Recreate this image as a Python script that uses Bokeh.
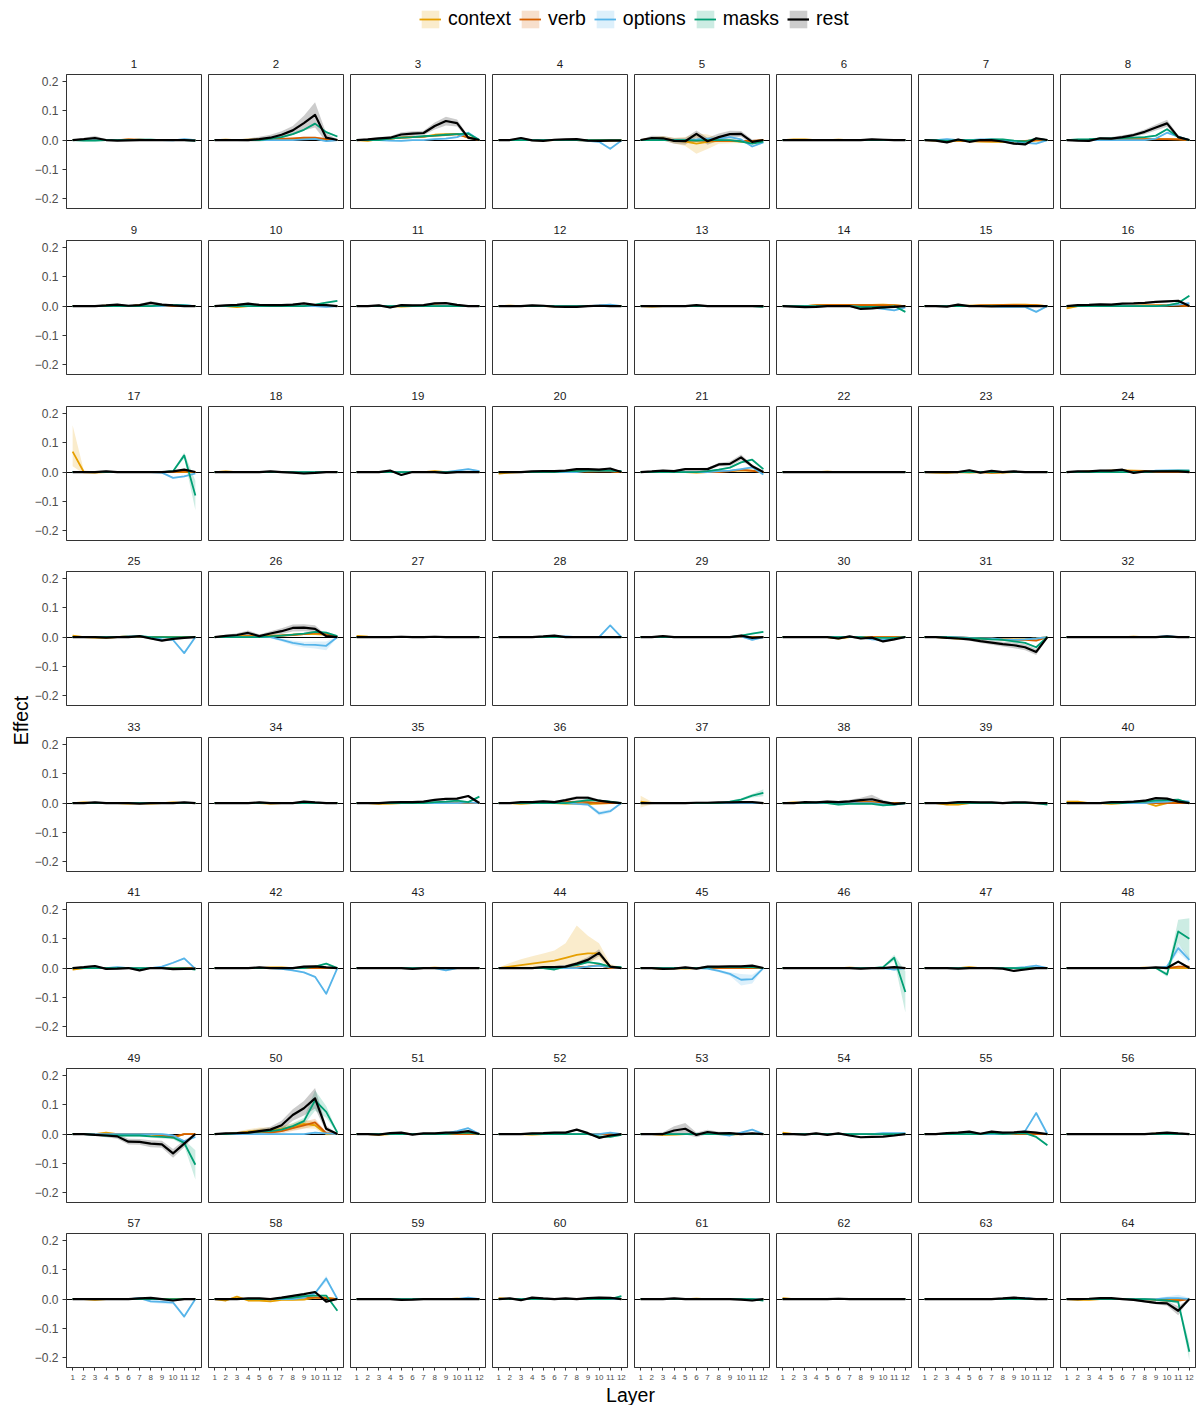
import math
from bokeh.plotting import figure
from bokeh.models import (Range1d, FixedTicker, CustomJSTickFormatter, Label,
                          Legend, LegendItem)
from bokeh.layouts import row, column
from bokeh.embed import file_html
from bokeh.resources import INLINE

# ---------------------------------------------------------------- data
LAYERS = [1, 2, 3, 4, 5, 6, 7, 8, 9, 10, 11, 12]
PANELS = list(range(1, 65))
SERIES = ["context", "verb", "options", "masks", "rest"]
Y_TICKS = [-0.2, -0.1, 0.0, 0.1, 0.2]

context = [
    [0, 0, 0.001, 0, 0, 0.001, 0, 0, 0, 0, 0, 0],  # 1
    [0, 0.001, 0, 0.001, 0.002, 0.003, 0.003, 0.004, 0.004, 0.003, 0.002, 0],  # 2
    [0, -0.003, 0.003, 0.005, 0.008, 0.01, 0.012, 0.018, 0.02, 0.02, 0.01, 0],  # 3
    [0, 0, 0.002, 0, -0.001, 0, 0, 0, -0.002, -0.002, -0.002, 0],  # 4
    [0, 0.005, 0.006, -0.002, -0.005, -0.012, -0.006, -0.003, -0.003, -0.005, -0.005, 0],  # 5
    [0, 0.002, 0.002, 0, 0, 0.001, 0, 0, 0, 0, 0, 0],  # 6
    [0, -0.002, -0.006, -0.002, -0.004, -0.005, -0.006, -0.006, -0.008, -0.006, -0.002, 0],  # 7
    [0, 0, 0, 0.001, 0.002, 0.002, 0.002, 0.002, 0.003, 0.003, 0.002, 0],  # 8
    [0, 0, 0, 0.001, 0, 0, 0.002, 0, 0, 0.001, 0, 0],  # 9
    [0, 0, -0.004, 0, 0.001, 0.001, 0, 0.001, 0, 0, 0, 0],  # 10
    [0, 0, 0, 0, -0.002, 0, 0, 0.002, 0, 0, 0, 0],  # 11
    [0, 0.001, 0, 0, 0, -0.001, 0, 0, 0, 0, 0, 0],  # 12
    [0, -0.002, 0, 0, 0, 0, 0, 0, 0, 0, 0, 0],  # 13
    [0, 0, 0, 0.003, 0.004, 0.004, 0.004, 0.004, 0.004, 0.005, 0.003, 0],  # 14
    [0, 0, 0, 0, 0.001, 0.002, 0.003, 0.004, 0.005, 0.005, 0.003, 0],  # 15
    [-0.008, 0, 0, 0.001, 0, 0, 0.001, 0.002, 0.002, 0.002, 0.002, 0],  # 16
    [0.07, 0, -0.002, 0, 0, 0, 0, 0, 0, 0, 0, 0],  # 17
    [0, 0.002, 0, 0, 0, 0, 0, 0, 0, 0, 0, 0],  # 18
    [0, 0, 0, 0, 0, 0, 0, 0.003, 0, 0, 0, 0],  # 19
    [-0.005, -0.002, 0, 0, 0, 0.002, 0.003, 0.002, 0.002, 0.003, 0.003, 0],  # 20
    [0, 0, 0.002, 0, 0, -0.002, 0, 0.003, 0.003, 0.006, 0.005, 0],  # 21
    [0, 0, 0, 0, 0.001, 0, 0, 0, 0, 0, 0, 0],  # 22
    [0, -0.002, -0.003, 0, -0.002, 0, -0.003, -0.002, 0, 0, 0, 0],  # 23
    [0, 0, 0.002, 0.003, 0.005, 0.006, 0.005, 0.004, 0.002, 0.002, 0, 0],  # 24
    [0.005, 0, -0.002, -0.003, 0, 0.004, 0, 0, 0, 0, 0, 0],  # 25
    [0, 0.002, 0.003, 0.004, 0.004, 0.005, 0.006, 0.008, 0.01, 0.01, 0.008, 0],  # 26
    [0.004, 0.001, 0, 0, 0, 0, 0, 0, 0, 0, 0, 0],  # 27
    [0, 0, 0, 0, 0, 0.002, 0, 0, 0, 0, 0, 0],  # 28
    [0, 0, 0.001, 0, 0, 0, 0, 0, 0, 0, 0, 0],  # 29
    [0, 0, 0, 0, 0, -0.005, 0, 0, 0, 0, 0, 0],  # 30
    [0, 0, -0.003, -0.005, -0.005, -0.006, -0.006, -0.008, -0.008, -0.008, -0.005, 0],  # 31
    [0, 0, 0, 0, 0, 0, 0.001, 0, 0, 0, 0, 0],  # 32
    [0, 0.002, 0, 0, 0, -0.002, 0, -0.002, 0, 0.002, 0, 0],  # 33
    [0, 0, 0, 0, 0, -0.002, 0, 0, 0, 0, 0, 0],  # 34
    [0, 0, -0.003, -0.002, 0, 0, 0, 0, 0, 0.002, 0, 0],  # 35
    [0, 0, -0.003, 0, 0, 0, -0.002, -0.002, -0.004, -0.002, 0, 0],  # 36
    [0.005, 0, 0, 0, 0, 0, 0, 0, 0, 0, 0, 0],  # 37
    [0, 0.002, 0, 0, 0, 0, 0.002, 0.002, 0.003, 0, 0, 0],  # 38
    [0, 0, -0.005, -0.005, 0, 0, 0, 0, 0, 0, 0, 0],  # 39
    [0.005, 0.005, 0, 0, -0.003, 0, 0, 0.002, -0.01, 0, 0.002, 0],  # 40
    [-0.005, 0, 0, 0, 0, 0, 0, 0, 0, 0, 0, 0],  # 41
    [0, 0, 0, 0, 0, 0.002, 0.002, 0, 0.002, 0.002, 0, 0],  # 42
    [0, 0, 0, 0, 0, 0, 0, 0.001, 0, 0, 0, 0],  # 43
    [0, 0.005, 0.01, 0.015, 0.02, 0.025, 0.035, 0.045, 0.05, 0.05, 0.005, 0],  # 44
    [0, 0, -0.003, 0, -0.002, 0, 0, 0, 0, 0, 0, 0],  # 45
    [0, 0, 0, 0, 0, 0, 0.001, 0, 0, 0, 0, 0],  # 46
    [0, 0, 0, 0, 0.003, 0, 0, 0, 0, 0, 0, 0],  # 47
    [0, 0, 0, 0, 0, 0, 0, 0.001, 0, 0, 0, 0],  # 48
    [0, 0, 0, 0.005, 0, 0, 0, -0.002, -0.005, -0.012, 0, 0],  # 49
    [0, 0, 0.003, 0.008, 0.012, 0.012, 0.018, 0.025, 0.035, 0.03, 0, 0],  # 50
    [0, 0, -0.003, 0, 0.002, 0, 0, 0, 0, 0, 0, 0],  # 51
    [0, 0, 0, -0.002, 0, 0, 0, 0, 0, 0, 0, 0],  # 52
    [0, 0, -0.003, -0.002, 0, 0, 0, 0, -0.002, 0, 0, 0],  # 53
    [0.005, 0, 0, 0, 0, 0, 0, 0, 0, 0, 0, 0],  # 54
    [0, 0, 0, 0, 0, 0, 0.002, 0, 0, 0, 0, 0],  # 55
    [0, 0, 0, 0, 0, 0, 0, 0, 0.001, 0, 0, 0],  # 56
    [0, 0, -0.003, 0, 0, 0, 0, 0, 0, 0, 0, 0],  # 57
    [0, -0.005, 0.008, -0.005, -0.005, -0.008, -0.003, -0.003, -0.002, 0.005, 0.005, 0],  # 58
    [0, 0, 0, 0, 0, 0, 0, 0, 0, 0.001, 0, 0],  # 59
    [0.003, 0, 0, 0, 0, 0, 0, 0, 0, 0, 0, 0],  # 60
    [0, 0, 0, 0, 0, 0.001, 0, 0, 0, 0, 0, 0],  # 61
    [0.003, 0, 0, 0, 0, 0, 0, 0, 0, 0, 0, 0],  # 62
    [0, 0, 0, 0, 0, 0, 0, 0, 0, 0, 0, 0],  # 63
    [0, -0.003, -0.003, 0, 0, 0, 0, 0, 0, 0, 0, 0],  # 64
]

verb = [
    [0, 0, 0, 0, 0, 0.002, 0.001, 0, 0, 0, 0, 0],  # 1
    [0, 0, 0, 0, 0, 0.002, 0.004, 0.006, 0.008, 0.008, 0.003, 0],  # 2
    [0, 0, 0.002, 0.005, 0.008, 0.01, 0.012, 0.015, 0.017, 0.02, 0.008, 0],  # 3
    [0, 0, 0, 0, 0, 0, 0, 0, -0.002, 0, 0, 0],  # 4
    [0, 0.003, 0.004, 0, -0.002, -0.002, -0.002, -0.003, -0.003, -0.003, -0.003, 0],  # 5
    [0, 0, 0, 0, 0, 0, 0, 0, 0, 0, 0, 0],  # 6
    [0, 0, -0.003, -0.002, -0.002, -0.003, -0.003, -0.003, -0.003, -0.003, 0, 0],  # 7
    [0, 0, 0, 0, 0, 0.001, 0.002, 0.003, 0.003, 0.003, 0.002, 0],  # 8
    [0, 0, 0, 0, 0, 0, 0.002, 0, 0, 0, 0, 0],  # 9
    [0, 0, 0, 0, 0, 0, 0.002, 0, 0, 0, 0, 0],  # 10
    [0, 0, 0, 0, 0, 0, 0, 0.001, 0, 0, 0, 0],  # 11
    [0, 0, 0, 0, 0, 0, 0, 0, 0, 0, 0, 0],  # 12
    [0, 0, 0, 0, 0, 0, 0, 0, 0, 0, 0, 0],  # 13
    [0, 0, 0, 0.002, 0.003, 0.003, 0.003, 0.003, 0.003, 0.002, 0.002, 0],  # 14
    [0, 0, 0, 0, 0, 0.002, 0.002, 0.003, 0.003, 0.002, 0.002, 0],  # 15
    [0, 0, 0, 0, 0, 0, 0, 0.001, 0.002, 0.002, 0.002, 0],  # 16
    [0, 0, 0, 0, 0, 0, 0, 0, 0, 0, 0.002, 0],  # 17
    [0, 0, 0, 0, 0, 0, 0, 0, 0, 0, 0, 0],  # 18
    [0, 0, 0, 0, 0, 0, 0, 0, 0, 0, 0, 0],  # 19
    [0, 0, 0, 0, 0, 0, 0, 0.002, 0.002, 0.002, 0.002, 0],  # 20
    [0, 0, 0, 0, 0, 0, 0, 0, 0.003, 0.008, 0.004, 0],  # 21
    [0, 0, 0, 0, 0, 0, 0, 0, 0, 0, 0, 0],  # 22
    [0, 0, 0, 0, 0, 0, -0.002, 0, 0, 0, 0, 0],  # 23
    [0, 0, 0, 0, 0.003, 0.004, 0.003, 0.002, 0, 0, 0, 0],  # 24
    [0, 0, 0, 0, 0, 0, 0, 0, 0, -0.003, 0, 0],  # 25
    [0, 0, 0, 0.002, 0.002, 0.003, 0.005, 0.007, 0.01, 0.015, 0.01, 0],  # 26
    [0, 0, 0, 0, 0, 0, 0, 0, 0, 0, 0, 0],  # 27
    [0, 0, 0, 0, 0, 0, 0, 0, 0, 0, 0, 0],  # 28
    [0, 0, 0, 0, 0, 0, 0, 0, 0, 0, 0, 0],  # 29
    [0, 0, 0, 0, 0, 0, 0, 0, 0, 0, 0, 0],  # 30
    [0, 0, 0, 0, -0.003, -0.005, -0.005, -0.008, -0.01, -0.01, -0.012, 0],  # 31
    [0, 0, 0, 0, 0, 0, 0, 0, 0, 0, 0, 0],  # 32
    [0, 0, 0, 0, 0, 0, 0, 0, 0, 0, 0, 0],  # 33
    [0, 0, 0, 0, 0, 0, 0, 0, 0, 0, 0, 0],  # 34
    [0, 0, 0, 0, 0, 0, 0, 0, 0, 0, 0, 0],  # 35
    [0, 0, 0, 0, 0, 0, 0.003, 0.005, 0.003, 0, 0, 0],  # 36
    [0, 0, 0, 0, 0, 0, 0, 0, 0, 0, 0, 0],  # 37
    [0, 0, 0, 0, 0, 0.002, 0.003, 0.003, 0.003, 0, 0, 0],  # 38
    [0, 0, 0, 0, 0, 0, 0, 0, 0, 0, 0, 0],  # 39
    [0, 0, 0, 0, 0, 0, 0, 0, 0, 0, 0, 0],  # 40
    [0, 0, 0, 0, 0, 0, 0, 0, 0, 0, 0, 0],  # 41
    [0, 0, 0, 0, 0, 0, 0, 0, 0, 0, 0, 0],  # 42
    [0, 0, 0, 0, 0, 0, 0, 0, 0, 0, 0, 0],  # 43
    [0, 0, 0, 0, 0, 0, 0, 0.002, 0.005, 0.01, 0, 0],  # 44
    [0, 0, 0, 0, 0, 0, 0, 0, 0, 0, 0, 0],  # 45
    [0, 0, 0, 0, 0, 0, 0, 0, 0, 0, 0, 0],  # 46
    [0, 0, 0, 0, 0, 0, 0, 0, 0, 0, 0, 0],  # 47
    [0, 0, 0, 0, 0, 0, 0, 0, 0, 0, 0.005, 0.005],  # 48
    [0, 0, 0, 0, 0, 0, 0, 0, -0.003, -0.01, 0, 0],  # 49
    [0, 0, 0.002, 0.003, 0.008, 0.005, 0.01, 0.02, 0.03, 0.04, 0.003, 0],  # 50
    [0, 0, 0, 0, 0, 0, 0, 0, 0, 0, 0, 0],  # 51
    [0, 0, 0, 0, 0, 0, 0, 0, 0, 0, 0, 0],  # 52
    [0, 0, 0, 0, 0, 0, 0, 0, 0, 0, 0, 0],  # 53
    [0, 0, 0, 0, 0, 0, 0, 0, 0, 0, 0, 0],  # 54
    [0, 0, 0, 0, 0, 0, 0, 0, 0, 0, 0, 0],  # 55
    [0, 0, 0, 0, 0, 0, 0, 0, 0, 0, 0, 0],  # 56
    [0, 0, 0, 0, 0, 0, 0, 0, 0, 0, 0, 0],  # 57
    [0, 0, 0, 0, 0, 0, 0, 0.003, 0.005, 0.005, 0.003, 0],  # 58
    [0, 0, 0, 0, 0, 0, 0, 0, 0, 0, 0, 0],  # 59
    [0, 0, 0, 0, 0, 0, 0, 0, 0, 0, 0, 0],  # 60
    [0, 0, 0, 0, 0, 0, 0, 0, 0, 0, 0, 0],  # 61
    [0, 0, 0, 0, 0, 0, 0, 0, 0, 0, 0, 0],  # 62
    [0, 0, 0, 0, 0, 0, 0, 0, 0, 0, 0, 0],  # 63
    [0, 0, 0, 0, 0, 0, 0, 0, -0.003, -0.005, -0.005, 0],  # 64
]

options = [
    [0, 0, 0, 0, 0, 0, 0, 0, 0, -0.001, 0.003, 0],  # 1
    [0, 0, 0, 0, 0, 0, 0, 0, 0.002, 0.004, -0.004, 0],  # 2
    [0, 0, 0, -0.002, -0.003, 0, 0, 0.003, 0.005, 0.01, 0.025, 0],  # 3
    [0, 0, 0.002, 0, 0, 0, 0, 0, -0.003, -0.006, -0.03, -0.002],  # 4
    [0, 0, 0.002, 0, 0, 0.002, 0.005, 0.005, 0.01, 0.002, -0.022, -0.008],  # 5
    [0, 0, 0, 0, 0, 0, 0, 0, 0, 0, 0, 0],  # 6
    [0, 0, 0.003, 0, 0, 0.002, 0.002, 0, -0.005, -0.01, -0.012, 0],  # 7
    [0, 0, 0, 0, 0, 0, 0, 0, 0.005, 0.025, 0.012, 0],  # 8
    [0, 0, 0, 0, 0, 0, 0, 0, 0, 0.003, 0.003, 0],  # 9
    [0, 0, 0, 0, 0, 0, 0, 0, 0, 0, -0.003, 0],  # 10
    [0, 0, 0, 0, 0, 0, 0, 0, 0, 0, 0, 0],  # 11
    [0, 0, 0, 0, 0, 0, 0, 0, 0, 0.002, 0.005, 0],  # 12
    [0, 0, 0, 0, 0, 0, 0, 0, 0, 0, 0, 0],  # 13
    [0, 0, 0, 0, 0, 0, 0, -0.003, -0.005, -0.01, -0.015, -0.005],  # 14
    [0, 0, 0, 0, 0, 0, 0, -0.003, -0.003, -0.003, -0.02, 0],  # 15
    [0, 0, 0, 0, 0, 0, 0, 0, 0, 0.002, 0.005, 0.01],  # 16
    [0, 0, 0, 0, 0, 0, 0, 0, -0.002, -0.02, -0.015, -0.005],  # 17
    [0, 0, 0, 0, 0, 0, 0, 0, 0, 0, 0, 0],  # 18
    [0, 0, 0, 0, 0, 0, 0, 0, 0, 0.005, 0.01, 0.003],  # 19
    [0, 0, 0, 0, 0, 0, 0, 0, 0.005, 0.005, 0.005, 0.002],  # 20
    [0, 0, 0, 0, 0, 0, 0, 0.003, 0.005, 0.01, 0.016, -0.008],  # 21
    [0, 0, 0, 0, 0, 0, 0, 0, 0, 0, 0, 0],  # 22
    [0, 0, 0, 0, 0, 0, 0, 0, 0, 0, 0, 0],  # 23
    [0, 0, 0, 0, 0, 0, 0, 0, 0.005, 0.006, 0.006, 0.005],  # 24
    [0, 0, 0, 0, 0, 0.003, 0.002, 0, -0.008, -0.01, -0.055, 0],  # 25
    [0, 0, 0, 0, 0, 0, -0.01, -0.02, -0.026, -0.027, -0.03, 0],  # 26
    [0, 0, 0, 0, 0, 0, 0, 0, 0, 0, 0, 0],  # 27
    [0, 0, 0, 0, 0, 0, 0.002, 0, 0, 0, 0.04, 0],  # 28
    [0, 0, 0, 0, 0, 0, 0, 0, 0, 0.002, -0.01, 0],  # 29
    [0, 0, 0, 0, 0, 0, 0, 0, -0.008, -0.01, -0.005, 0],  # 30
    [0, 0, 0, 0, -0.003, -0.005, -0.005, -0.008, -0.01, -0.008, -0.005, 0],  # 31
    [0, 0, 0, 0, 0, 0, 0, 0, 0, 0.004, 0, 0],  # 32
    [0, 0, 0, 0, 0, 0, 0, 0, 0, 0, 0, 0],  # 33
    [0, 0, 0, 0, 0, 0, 0, 0, 0, 0, 0, 0],  # 34
    [0, 0, 0, 0, 0, 0, 0, 0, 0, 0, 0.002, 0],  # 35
    [0, 0, 0, 0, 0, 0, 0, -0.003, -0.005, -0.035, -0.028, 0],  # 36
    [0, 0, 0, 0, 0, 0, 0, 0, 0, 0, 0, 0],  # 37
    [0, 0, 0, 0, 0, 0, 0, 0, 0, -0.005, -0.005, 0],  # 38
    [0, 0, 0, 0, 0, 0, 0, 0, 0, 0, 0, 0],  # 39
    [0, 0, 0, 0, 0, 0, 0, 0, 0.003, 0.005, 0.008, 0.005],  # 40
    [0, 0, 0, 0, 0.003, 0, 0, 0, 0.005, 0.018, 0.033, -0.003],  # 41
    [0, 0, 0, 0, 0, 0, -0.003, -0.008, -0.015, -0.03, -0.088, 0],  # 42
    [0, 0, 0, 0, 0, 0, 0, 0, -0.008, 0, 0, 0],  # 43
    [0, 0, 0, 0, 0, 0, 0, 0, 0.005, 0.008, 0.003, 0],  # 44
    [0, 0, 0, 0, 0, 0, -0.002, -0.01, -0.02, -0.04, -0.038, 0],  # 45
    [0, 0, 0, 0, 0, 0, 0, 0, 0, 0, -0.005, 0],  # 46
    [0, 0, 0, 0, 0, 0, 0, 0, 0, 0.003, 0.008, 0],  # 47
    [0, 0, 0, 0, 0, 0, 0, 0, 0, 0.005, 0.068, 0.028],  # 48
    [0, 0, 0, 0, 0, 0, 0, 0, 0, -0.005, -0.025, -0.01],  # 49
    [0, 0, 0, 0, 0, 0, 0, 0, 0, 0.005, 0.002, 0],  # 50
    [0, 0, 0, 0, 0, 0, 0, 0, 0.002, 0.01, 0.02, 0],  # 51
    [0, 0, 0, 0, 0, 0, 0, 0, 0, 0, 0.005, 0],  # 52
    [0, 0, 0, 0, 0, 0, 0, 0, -0.005, 0.005, 0.015, 0],  # 53
    [0, 0, 0, 0, 0, 0, 0, 0, 0, 0.003, 0.003, 0.003],  # 54
    [0, 0, 0, 0, 0, 0, 0, 0, 0.002, 0.01, 0.072, 0],  # 55
    [0, 0, 0, 0, 0, 0, 0, 0, 0, 0, 0, 0],  # 56
    [0, 0, 0, 0, 0, 0, 0.003, -0.008, -0.01, -0.012, -0.06, 0],  # 57
    [0, 0, 0, 0, 0, 0, 0, 0, 0.005, 0.02, 0.07, 0],  # 58
    [0, 0, 0, 0, 0, 0, 0, 0, 0, 0, 0.005, 0],  # 59
    [0, 0, 0, 0, 0, 0, 0, 0, 0, 0, 0, 0],  # 60
    [0, 0, 0, 0, 0, 0, 0, 0, 0, 0, 0, 0],  # 61
    [0, 0, 0, 0, 0, 0, 0, 0, 0, 0, 0, 0],  # 62
    [0, 0, 0, 0, 0, 0, 0, 0, 0, 0.003, 0, 0],  # 63
    [0, 0, 0, 0, 0, 0, 0, 0, 0, 0.003, 0.003, 0],  # 64
]

masks = [
    [0, -0.002, -0.002, 0, 0, 0, 0.001, 0.001, 0, 0, 0, -0.002],  # 1
    [0, 0, 0, 0, 0, 0.005, 0.01, 0.02, 0.035, 0.056, 0.027, 0.012],  # 2
    [0, 0, 0, 0.005, 0.008, 0.01, 0.013, 0.015, 0.018, 0.02, 0.022, 0],  # 3
    [0, 0, 0, 0, 0, 0, 0, 0, 0, 0, 0, 0],  # 4
    [0, 0, 0, 0, 0, -0.002, 0, 0, 0, -0.005, -0.012, -0.005],  # 5
    [0, 0, 0, 0, 0, 0, 0, 0, 0, 0, 0, 0],  # 6
    [0, 0, -0.003, 0, 0, 0, 0.002, 0.002, -0.002, -0.005, 0.005, 0],  # 7
    [0, 0.002, 0.003, 0.005, 0.006, 0.007, 0.008, 0.01, 0.015, 0.037, 0.01, 0],  # 8
    [0, 0, 0, 0, 0, 0, 0, 0, 0.003, 0.003, 0.002, 0],  # 9
    [0, 0, 0, 0, 0, 0, 0, 0, 0, 0.005, 0.012, 0.018],  # 10
    [0, 0, 0, 0, 0, 0, 0, 0, 0, 0, 0, 0],  # 11
    [0, 0, 0, 0, 0, 0, 0, 0, 0, 0, 0, 0],  # 12
    [0, 0, 0, 0, 0, 0, 0, 0, 0, 0, 0, -0.003],  # 13
    [0, 0, 0, 0, 0, 0, 0, -0.003, -0.003, -0.005, 0, -0.02],  # 14
    [0, 0, 0, 0, 0, 0, 0, 0, 0, 0, 0, 0],  # 15
    [0, 0, 0, 0, 0, 0, 0, 0, 0, 0.002, 0.01, 0.035],  # 16
    [0, 0, 0, 0, 0, 0, 0, 0, 0, 0.003, 0.057, -0.08],  # 17
    [0, 0, 0, 0, 0, 0, 0, 0, 0, 0, 0, 0],  # 18
    [0, 0, 0, 0, 0, 0, 0, 0, 0, 0, 0, 0],  # 19
    [0, 0, 0, 0, 0, 0, 0.003, 0.003, 0.005, 0.005, 0.005, 0.003],  # 20
    [0, 0, 0, 0, 0, 0, 0.003, 0.008, 0.015, 0.033, 0.042, 0.01],  # 21
    [0, 0, 0, 0, 0, 0, 0, 0, 0, 0, 0, 0],  # 22
    [0, 0, 0, 0, 0, 0, 0, 0, 0, 0, 0, 0],  # 23
    [0, 0, 0, 0, 0, 0, 0, 0, 0.002, 0.004, 0.005, 0.005],  # 24
    [0, 0, 0, 0, 0, 0, 0.003, 0, 0, 0, 0, 0],  # 25
    [0, 0, 0, 0, 0, 0.002, 0.005, 0.008, 0.012, 0.018, 0.015, 0.003],  # 26
    [0, 0, 0, 0, 0, 0, 0, 0, 0, 0, 0, 0],  # 27
    [0, 0, 0, 0, 0, 0, 0, 0, 0, 0, 0, 0],  # 28
    [0, 0, 0, 0, 0, 0, 0, 0, 0, 0.005, 0.012, 0.018],  # 29
    [0, 0, 0, 0, 0, 0, 0, 0, -0.003, -0.003, -0.003, 0],  # 30
    [0, 0, 0, -0.003, -0.005, -0.005, -0.008, -0.01, -0.015, -0.02, -0.035, 0],  # 31
    [0, 0, 0, 0, 0, 0, 0, 0, 0, 0, 0, 0],  # 32
    [0, 0, 0, 0, 0, 0, 0, 0, 0, 0, 0, 0],  # 33
    [0, 0, 0, 0, 0, 0, 0, 0, 0, 0, 0, 0],  # 34
    [0, 0, 0, 0, 0, 0, 0, 0.003, 0.005, 0.008, 0.003, 0.022],  # 35
    [0, 0, 0, 0, 0, 0, 0, 0.005, 0.01, 0.008, 0.005, 0],  # 36
    [0, 0, 0, 0, 0, 0, 0, 0, 0.005, 0.012, 0.025, 0.035],  # 37
    [0, 0, 0, 0.002, 0, -0.005, -0.003, -0.003, -0.003, -0.008, -0.005, 0],  # 38
    [0, 0, 0, 0, 0, 0, 0, 0, 0, 0, 0, -0.005],  # 39
    [0, 0, 0, 0, 0, 0, 0.003, 0.005, 0.008, 0.01, 0.012, 0],  # 40
    [0, 0, 0, 0, 0, 0, 0, 0, 0, 0, 0, -0.005],  # 41
    [0, 0, 0, 0, 0, 0, 0, 0, 0, 0.005, 0.015, 0],  # 42
    [0, 0, 0, 0, 0, 0, 0, 0, 0, 0, 0, 0],  # 43
    [0, 0, 0, 0, 0, -0.005, 0.005, 0.01, 0.02, 0.015, 0.005, 0.003],  # 44
    [0, 0, 0, 0, 0, 0, 0.002, 0.003, 0.003, 0.003, 0.003, 0],  # 45
    [0, 0, 0, 0, 0, 0, 0, 0, 0, 0.003, 0.035, -0.082],  # 46
    [0, 0, 0, 0, 0, 0, 0, 0, 0, 0, 0, 0],  # 47
    [0, 0, 0, 0, 0, 0, 0, 0, 0, -0.022, 0.125, 0.1],  # 48
    [0, 0, -0.003, -0.005, -0.005, -0.005, -0.005, -0.008, -0.01, -0.012, -0.03, -0.105],  # 49
    [0, 0, 0.003, 0.005, 0.008, 0.01, 0.015, 0.027, 0.044, 0.115, 0.076, 0.005],  # 50
    [0, 0, 0, 0, 0, 0, 0, 0, 0, 0.003, 0.005, 0],  # 51
    [0, 0, 0, 0, 0, 0, 0, 0, 0, -0.008, -0.01, -0.003],  # 52
    [0, 0, 0, 0, 0, 0, 0, 0, 0, 0, 0, 0],  # 53
    [0, 0, 0, 0, 0, 0, 0, 0, 0, 0, 0, 0],  # 54
    [0, 0, 0, 0, 0, 0, 0.003, 0, 0.002, 0.003, -0.01, -0.038],  # 55
    [0, 0, 0, 0, 0, 0, 0, 0, 0, 0, 0, 0],  # 56
    [0, 0, 0, 0, 0, 0, 0, 0, 0, 0, 0, 0],  # 57
    [0, 0, 0, 0, 0, 0, 0.002, 0.005, 0.01, 0.012, 0.012, -0.04],  # 58
    [0, 0, 0, 0, 0, 0, 0, 0, 0, 0, 0, 0],  # 59
    [0, 0, 0, 0, 0, 0, 0, 0, 0, 0, 0, 0.01],  # 60
    [0, 0, 0, 0, 0, 0, 0, 0, 0, 0, 0, -0.005],  # 61
    [0, 0, 0, 0, 0, 0, 0, 0, 0, 0, 0, 0],  # 62
    [0, 0, 0, 0, 0, 0, 0, 0, 0, 0, 0, 0],  # 63
    [0, 0, 0, 0, 0, 0, 0, 0, -0.003, -0.005, -0.01, -0.18],  # 64
]

rest = [
    [0, 0.003, 0.007, 0, -0.002, -0.001, 0, 0, 0, 0, 0, -0.002],  # 1
    [0, 0, 0, 0, 0.003, 0.008, 0.018, 0.033, 0.058, 0.086, 0.008, 0],  # 2
    [0, 0.002, 0.006, 0.008, 0.019, 0.022, 0.024, 0.048, 0.065, 0.058, 0.008, 0],  # 3
    [0, 0, 0.007, -0.001, -0.003, 0.001, 0.002, 0.003, -0.002, -0.003, -0.002, -0.002],  # 4
    [0, 0.007, 0.006, -0.003, -0.004, 0.021, -0.004, 0.01, 0.02, 0.021, -0.006, 0],  # 5
    [0, 0, 0, 0, 0, 0, 0, 0, 0.002, 0.001, 0, 0],  # 6
    [0, -0.002, -0.008, 0.002, -0.006, 0, 0, -0.005, -0.012, -0.015, 0.006, 0],  # 7
    [0, -0.002, -0.003, 0.006, 0.005, 0.01, 0.017, 0.028, 0.043, 0.057, 0.01, 0],  # 8
    [0, 0, 0, 0.002, 0.005, 0.001, 0.003, 0.011, 0.005, 0.002, 0, 0],  # 9
    [0, 0.002, 0.004, 0.008, 0.004, 0.003, 0.003, 0.005, 0.009, 0.004, 0.003, 0],  # 10
    [0, 0, 0.002, -0.005, 0.003, 0.002, 0.003, 0.009, 0.01, 0.004, 0, 0],  # 11
    [0, 0, 0, 0.002, 0.001, -0.002, -0.003, -0.003, 0, 0.001, 0, 0],  # 12
    [0, 0, 0, 0, 0, 0.003, 0, 0, 0, 0, 0, 0],  # 13
    [0, -0.002, -0.004, -0.003, 0, 0, 0, -0.01, -0.008, -0.005, -0.003, 0],  # 14
    [0, 0, -0.002, 0.005, 0, 0, -0.001, 0, 0, 0, 0, 0],  # 15
    [0, 0.003, 0.004, 0.006, 0.005, 0.008, 0.009, 0.011, 0.014, 0.016, 0.018, 0],  # 16
    [0, 0, 0, 0.002, 0, 0, 0, 0, 0, 0.002, 0.008, 0],  # 17
    [0, 0, 0, 0, 0, 0.002, 0, -0.002, -0.005, -0.003, 0, 0],  # 18
    [0, 0, 0, 0.005, -0.01, 0, 0, 0, -0.003, 0, 0, 0],  # 19
    [0, 0, 0, 0.002, 0.003, 0.003, 0.005, 0.01, 0.01, 0.008, 0.012, 0],  # 20
    [0, 0.002, 0.005, 0.003, 0.01, 0.01, 0.01, 0.026, 0.028, 0.05, 0.02, 0],  # 21
    [0, 0, 0, 0, 0, 0, 0, 0, 0, 0, 0, 0],  # 22
    [0, 0, 0, 0, 0.006, -0.002, 0.004, 0, 0.002, 0, 0, 0],  # 23
    [0, 0.002, 0.002, 0.005, 0.005, 0.008, -0.003, 0.002, 0.002, 0.002, 0.002, 0],  # 24
    [0, 0, 0, -0.002, 0, 0, 0.003, -0.005, -0.012, -0.006, -0.003, 0],  # 25
    [0, 0.004, 0.007, 0.014, 0.003, 0.012, 0.02, 0.031, 0.032, 0.028, 0.003, 0],  # 26
    [0, 0, 0, 0, 0.001, 0, 0, 0.001, 0, 0, 0, 0],  # 27
    [0, 0, 0, 0, 0.002, 0.005, 0, 0, 0, 0, 0, 0],  # 28
    [0, 0, 0.003, 0, 0, 0, 0, 0, 0, 0.005, -0.003, 0],  # 29
    [0, 0, 0, 0, 0, -0.005, 0.002, -0.005, -0.002, -0.015, -0.008, 0],  # 30
    [0, 0, -0.003, -0.005, -0.008, -0.014, -0.019, -0.024, -0.028, -0.035, -0.051, 0],  # 31
    [0, 0, 0, 0, 0, 0, 0, 0, 0, 0.002, 0, 0],  # 32
    [0, 0, 0.002, 0, 0, 0, -0.002, 0, 0, 0, 0.002, 0],  # 33
    [0, 0, 0, 0, 0.002, 0, 0, 0, 0.005, 0.002, 0, 0],  # 34
    [0, 0, 0, 0.002, 0.003, 0.003, 0.005, 0.011, 0.014, 0.015, 0.024, 0],  # 35
    [0, 0, 0.003, 0.003, 0.006, 0.003, 0.01, 0.018, 0.018, 0.008, 0.003, 0],  # 36
    [0, 0, 0, 0, 0, 0.001, 0.001, 0.002, 0.002, 0.003, 0.003, 0],  # 37
    [0, 0, 0.003, 0.002, 0.005, 0.003, 0.006, 0.01, 0.013, 0.004, -0.003, 0],  # 38
    [0, 0, 0, 0.003, 0.003, 0.002, 0.002, 0, 0.002, 0.002, 0, 0],  # 39
    [0, 0, 0, 0, 0.003, 0.003, 0.005, 0.008, 0.017, 0.015, 0.005, 0],  # 40
    [0, 0.003, 0.007, -0.003, -0.002, 0, -0.008, 0, 0, -0.004, -0.003, -0.002],  # 41
    [0, 0, 0, 0, 0.002, 0, 0, 0, 0.005, 0.006, 0.002, 0],  # 42
    [0, 0, 0, 0, 0, -0.003, 0, 0, 0, 0, 0, 0],  # 43
    [0, 0, 0, 0, 0.003, 0.003, 0.005, 0.015, 0.028, 0.052, 0.005, 0],  # 44
    [0, 0, -0.003, -0.002, 0.002, -0.002, 0.005, 0.005, 0.006, 0.006, 0.008, 0],  # 45
    [0, 0, 0, 0, 0, 0, 0, -0.002, 0, 0, 0.003, 0],  # 46
    [0, 0, 0, -0.002, 0, 0, 0, -0.002, -0.01, -0.005, 0, 0],  # 47
    [0, 0, 0, 0, 0, 0, 0, 0, 0.002, 0, 0.022, 0],  # 48
    [0, 0, -0.003, -0.005, -0.008, -0.026, -0.027, -0.033, -0.035, -0.066, -0.033, 0],  # 49
    [0, 0.002, 0.003, 0.005, 0.01, 0.015, 0.03, 0.065, 0.088, 0.122, 0.018, 0],  # 50
    [0, 0, -0.002, 0.003, 0.005, -0.002, 0.002, 0.002, 0.005, 0.005, 0.01, 0],  # 51
    [0, 0, 0, 0.002, 0.003, 0.005, 0.005, 0.015, 0.003, -0.013, -0.005, 0],  # 52
    [0, 0, 0, 0.012, 0.018, -0.003, 0.007, 0.002, 0.003, 0, 0.002, 0],  # 53
    [0, 0, -0.002, 0.002, -0.003, 0.002, -0.005, -0.011, -0.01, -0.009, -0.005, 0],  # 54
    [0, 0, 0.003, 0.005, 0.008, 0.001, 0.008, 0.005, 0.006, 0.008, 0.005, 0],  # 55
    [0, 0, 0, 0, 0, 0, 0, 0, 0.002, 0.005, 0.002, 0],  # 56
    [0, 0, 0, 0, 0, 0, 0.002, 0.004, 0, -0.005, 0, 0],  # 57
    [0, 0, 0, 0.002, 0.002, 0, 0.005, 0.011, 0.017, 0.024, -0.009, 0],  # 58
    [0, 0, 0, 0, -0.003, -0.002, 0, 0, 0, 0, 0, 0],  # 59
    [0, 0.002, -0.004, 0.005, 0.002, 0, 0.002, 0, 0.003, 0.005, 0.004, 0],  # 60
    [0, 0, 0, 0.002, 0, 0, 0, 0, 0, -0.002, -0.005, 0],  # 61
    [0, 0, 0, 0, 0, 0.001, 0, 0, 0, 0, 0, 0],  # 62
    [0, 0, 0, 0, 0, 0, 0, 0.002, 0.005, 0.002, 0, 0],  # 63
    [0, 0, 0.001, 0.003, 0.003, 0, -0.003, -0.008, -0.013, -0.015, -0.04, 0],  # 64
]

# half-widths of the uncertainty ribbons, where they are visible
# (a single list is symmetric; a tuple gives (below, above))
BASE_HW = 0.003
context_hw = {
    5: [0.002, 0.005, 0.008, 0.01, 0.015, 0.035, 0.025, 0.01, 0.008, 0.005, 0.004, 0.002],
    17: ([0.05, 0.006, 0.003, 0.002, 0.002, 0.002, 0.002, 0.002, 0.002, 0.002, 0.002, 0.002],
         [0.09, 0.006, 0.003, 0.002, 0.002, 0.002, 0.002, 0.002, 0.002, 0.002, 0.002, 0.002]),
    37: [0.02, 0.004, 0.002, 0.002, 0.002, 0.002, 0.002, 0.002, 0.002, 0.002, 0.002, 0.002],
    44: ([0.002, 0.008, 0.01, 0.012, 0.015, 0.018, 0.025, 0.04, 0.03, 0.02, 0.008, 0.002],
         [0.002, 0.012, 0.02, 0.025, 0.03, 0.035, 0.05, 0.1, 0.06, 0.035, 0.01, 0.002]),
    50: [0.002, 0.004, 0.006, 0.008, 0.01, 0.01, 0.01, 0.012, 0.015, 0.012, 0.005, 0.002],
}
verb_hw = {
    50: [0.002, 0.003, 0.004, 0.005, 0.006, 0.006, 0.008, 0.01, 0.012, 0.012, 0.004, 0.002],
}
options_hw = {
    26: [0.002, 0.002, 0.002, 0.002, 0.003, 0.004, 0.005, 0.008, 0.01, 0.012, 0.015, 0.002],
    36: [0.002, 0.002, 0.002, 0.002, 0.002, 0.002, 0.003, 0.004, 0.005, 0.008, 0.006, 0.002],
    45: [0.002, 0.002, 0.002, 0.002, 0.002, 0.002, 0.003, 0.004, 0.006, 0.02, 0.015, 0.002],
    48: [0.002, 0.002, 0.002, 0.002, 0.002, 0.002, 0.002, 0.002, 0.003, 0.004, 0.015, 0.01],
    57: [0.002, 0.002, 0.002, 0.002, 0.002, 0.002, 0.003, 0.005, 0.006, 0.006, 0.005, 0.002],
    58: [0.002, 0.002, 0.002, 0.002, 0.002, 0.002, 0.002, 0.003, 0.004, 0.005, 0.01, 0.002],
    64: [0.002, 0.002, 0.002, 0.002, 0.002, 0.002, 0.002, 0.002, 0.003, 0.006, 0.012, 0.004],
}
masks_hw = {
    17: [0.002, 0.002, 0.002, 0.002, 0.002, 0.002, 0.002, 0.002, 0.002, 0.003, 0.01, 0.05],
    37: [0.002, 0.002, 0.002, 0.002, 0.002, 0.002, 0.002, 0.002, 0.003, 0.004, 0.006, 0.012],
    46: [0.002, 0.002, 0.002, 0.002, 0.002, 0.002, 0.002, 0.002, 0.002, 0.003, 0.01, 0.07],
    48: [0.002, 0.002, 0.002, 0.002, 0.002, 0.002, 0.002, 0.002, 0.003, 0.008, 0.04, 0.07],
    49: [0.002, 0.002, 0.002, 0.003, 0.003, 0.003, 0.004, 0.004, 0.005, 0.006, 0.01, 0.05],
    50: [0.002, 0.002, 0.003, 0.004, 0.005, 0.006, 0.008, 0.01, 0.012, 0.035, 0.02, 0.003],
    64: [0.002, 0.002, 0.002, 0.002, 0.002, 0.002, 0.002, 0.002, 0.003, 0.004, 0.006, 0.03],
}
rest_hw = {
    1: [0.002, 0.004, 0.008, 0.003, 0.002, 0.002, 0.002, 0.002, 0.002, 0.002, 0.002, 0.002],
    2: [0.002, 0.002, 0.003, 0.005, 0.008, 0.01, 0.012, 0.015, 0.025, 0.043, 0.015, 0.003],
    3: [0.002, 0.003, 0.004, 0.005, 0.008, 0.008, 0.008, 0.012, 0.015, 0.012, 0.006, 0.002],
    5: [0.002, 0.008, 0.008, 0.01, 0.012, 0.012, 0.012, 0.012, 0.012, 0.01, 0.008, 0.003],
    8: [0.002, 0.003, 0.003, 0.004, 0.005, 0.006, 0.006, 0.008, 0.01, 0.012, 0.006, 0.002],
    9: [0.002, 0.002, 0.002, 0.003, 0.003, 0.003, 0.004, 0.006, 0.004, 0.003, 0.002, 0.002],
    21: [0.002, 0.002, 0.003, 0.003, 0.004, 0.004, 0.005, 0.006, 0.008, 0.01, 0.006, 0.002],
    26: [0.002, 0.004, 0.006, 0.008, 0.006, 0.008, 0.01, 0.012, 0.012, 0.012, 0.004, 0.002],
    31: [0.002, 0.002, 0.003, 0.004, 0.005, 0.006, 0.007, 0.008, 0.01, 0.01, 0.01, 0.002],
    36: [0.002, 0.002, 0.003, 0.003, 0.004, 0.004, 0.005, 0.006, 0.006, 0.004, 0.003, 0.002],
    38: [0.002, 0.002, 0.003, 0.003, 0.004, 0.004, 0.005, 0.008, 0.015, 0.006, 0.004, 0.002],
    44: [0.002, 0.002, 0.002, 0.003, 0.003, 0.004, 0.005, 0.006, 0.01, 0.012, 0.004, 0.002],
    49: [0.002, 0.003, 0.004, 0.006, 0.008, 0.01, 0.01, 0.012, 0.012, 0.015, 0.012, 0.003],
    50: [0.002, 0.003, 0.004, 0.006, 0.008, 0.01, 0.015, 0.02, 0.025, 0.035, 0.01, 0.002],
    53: [0.002, 0.003, 0.006, 0.015, 0.02, 0.008, 0.008, 0.006, 0.004, 0.003, 0.003, 0.002],
    64: [0.002, 0.002, 0.002, 0.002, 0.002, 0.002, 0.003, 0.004, 0.005, 0.008, 0.015, 0.002],
}

VALUES = {"context": context, "verb": verb, "options": options, "masks": masks, "rest": rest}
HALF_WIDTHS = {"context": context_hw, "verb": verb_hw, "options": options_hw,
               "masks": masks_hw, "rest": rest_hw}

# ---------------------------------------------------------------- style
COLORS = {"context": "#E69F00", "verb": "#D55E00", "options": "#56B4E9",
          "masks": "#009E73", "rest": "#000000"}
LINE_W = {"context": 1.8, "verb": 1.8, "options": 1.8, "masks": 1.8, "rest": 2.2}
RIBBON_ALPHA = 0.2
FONT = "Liberation Sans"
FRAME_W, FRAME_H = 135, 134
GAP_X = 6
LEFT_COL0 = 36
TOP_BORDERS = [31, 31, 31, 30, 31, 30, 31, 30]
BOTTOM_AXIS = 17
EFFECT_W = 30
LEG_H = 43
LAYER_H = 21
GRID_W = (LEFT_COL0 + FRAME_W + 1) + 7 * (GAP_X + FRAME_W + 1)
TOTAL_W = EFFECT_W + GRID_W
GRID_H = sum(TOP_BORDERS) + 7 * (FRAME_H + 1) + FRAME_H + BOTTOM_AXIS
X_RANGE = (0.45, 12.55)
Y_RANGE = (-0.234, 0.224)
BORDER = "#333333"


def make_panel(idx):
    n = PANELS[idx]
    r, c = divmod(idx, 8)
    p = figure(title=str(n), frame_width=FRAME_W, frame_height=FRAME_H,
               x_range=Range1d(*X_RANGE), y_range=Range1d(*Y_RANGE),
               x_axis_location="below" if r == 7 else None,
               y_axis_location="left" if c == 0 else None,
               min_border_left=LEFT_COL0 if c == 0 else GAP_X,
               min_border_right=1, min_border_top=TOP_BORDERS[r],
               min_border_bottom=BOTTOM_AXIS if r == 7 else 1,
               output_backend="svg", toolbar_location=None, tools="")
    p.title.align = "center"
    p.title.text_font = FONT
    p.title.text_font_size = "11.5px"
    p.title.text_font_style = "normal"
    p.title.text_color = "#1a1a1a"
    p.title.standoff = 14
    p.outline_line_color = BORDER
    p.outline_line_width = 1
    p.grid.visible = False
    p.background_fill_color = "white"

    if c == 0:
        ax = p.yaxis[0]
        ax.ticker = FixedTicker(ticks=Y_TICKS)
        ax.formatter = CustomJSTickFormatter(
            code="return (tick < -1e-9 ? '\u2212' : '') + Math.abs(tick).toFixed(1);")
        ax.major_tick_out = 4
        ax.major_tick_in = 0
        ax.minor_tick_line_color = None
        ax.major_tick_line_color = BORDER
        ax.axis_line_color = BORDER
        ax.major_label_text_font = FONT
        ax.major_label_text_font_size = "12px"
        ax.major_label_text_color = "#4d4d4d"
        ax.major_label_standoff = 4
    if r == 7:
        ax = p.xaxis[0]
        ax.ticker = FixedTicker(ticks=LAYERS)
        ax.major_tick_out = 3
        ax.major_tick_in = 0
        ax.minor_tick_line_color = None
        ax.major_tick_line_color = BORDER
        ax.axis_line_color = BORDER
        ax.major_label_text_font = FONT
        ax.major_label_text_font_size = "8px"
        ax.major_label_text_color = "#4d4d4d"
        ax.major_label_standoff = 4

    # ribbons
    for s in SERIES:
        vals = VALUES[s][idx]
        hw = HALF_WIDTHS[s].get(n, [BASE_HW] * len(LAYERS))
        lo_hw, hi_hw = hw if isinstance(hw, tuple) else (hw, hw)
        lo = [v - h for v, h in zip(vals, lo_hw)]
        hi = [v + h for v, h in zip(vals, hi_hw)]
        p.varea(x=LAYERS, y1=lo, y2=hi, fill_color=COLORS[s], fill_alpha=RIBBON_ALPHA)
    # zero reference line
    p.hspan(y=[0], line_color="black", line_width=1)
    # lines
    for s in SERIES:
        p.line(x=LAYERS, y=VALUES[s][idx], line_color=COLORS[s],
               line_width=LINE_W[s], line_join="round")
    return p


rows = []
for r in range(8):
    rows.append(row([make_panel(r * 8 + c) for c in range(8)], spacing=0))
grid = column(rows, spacing=0)

# y-axis title
effect_fig = figure(frame_width=EFFECT_W, frame_height=GRID_H,
                    x_range=Range1d(0, EFFECT_W), y_range=Range1d(0, GRID_H),
                    x_axis_location=None, y_axis_location=None, min_border=0,
                    outline_line_color=None, output_backend="svg",
                    toolbar_location=None, tools="")
effect_fig.grid.visible = False
effect_fig.add_layout(Label(x=20, y=GRID_H - (720 - LEG_H), text="Effect",
                            angle=math.pi / 2, text_align="center",
                            text_baseline="middle", text_font=FONT,
                            text_font_size="19.5px", text_color="black"))

# legend on top
leg_fig = figure(frame_width=TOTAL_W, frame_height=LEG_H,
                 x_range=Range1d(0, TOTAL_W), y_range=Range1d(0, LEG_H),
                 x_axis_location=None, y_axis_location=None, min_border=0,
                 outline_line_color=None, output_backend="svg",
                 toolbar_location=None, tools="")
leg_fig.grid.visible = False
items = []
for s in SERIES:
    ra = leg_fig.varea(x=[-10, -5], y1=[-10, -10], y2=[-5, -5],
                       fill_color=COLORS[s], fill_alpha=RIBBON_ALPHA)
    rl = leg_fig.line(x=[-10, -5], y=[-10, -10], line_color=COLORS[s], line_width=LINE_W[s])
    items.append(LegendItem(label=s, renderers=[ra, rl]))
legend = Legend(items=items, orientation="horizontal", location=(419, 13),
                glyph_width=22, glyph_height=22, label_standoff=7, spacing=8,
                padding=0, margin=0, border_line_color=None,
                background_fill_alpha=0, label_text_font=FONT,
                label_text_font_size="19.5px", label_text_color="black",
                label_height=22)
leg_fig.add_layout(legend)

# x-axis title
layer_fig = figure(frame_width=TOTAL_W, frame_height=LAYER_H,
                   x_range=Range1d(0, TOTAL_W), y_range=Range1d(0, LAYER_H),
                   x_axis_location=None, y_axis_location=None, min_border=0,
                   outline_line_color=None, output_backend="svg",
                   toolbar_location=None, tools="")
layer_fig.grid.visible = False
layer_fig.add_layout(Label(x=630, y=LAYER_H - 10, text="Layer",
                           text_align="center", text_baseline="middle",
                           text_font=FONT, text_font_size="19.5px",
                           text_color="black"))

root = column([leg_fig, row([effect_fig, grid], spacing=0), layer_fig], spacing=0)

html = file_html(root, INLINE, title="Effect by layer")
html = html.replace("</head>", "<style>html, body {overflow: hidden;}</style></head>", 1)
open("out.html", "w").write(html)
